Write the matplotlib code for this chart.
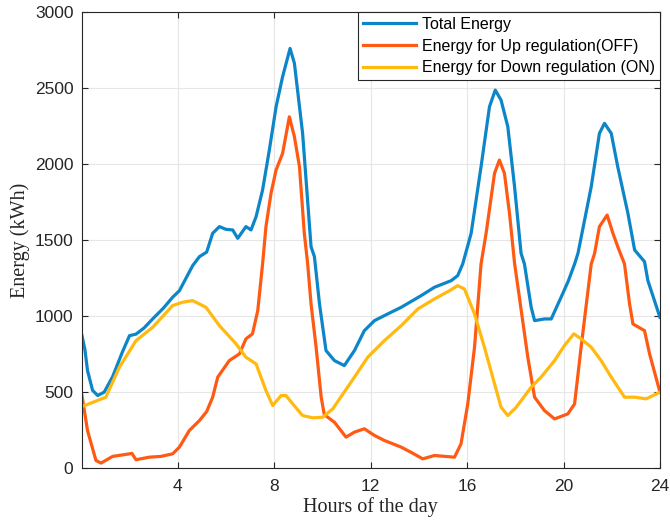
import matplotlib.pyplot as plt

# Hours and values
t_total = [0.03, 0.15, 0.26, 0.47, 0.68, 0.95, 1.3, 1.7, 2.0, 2.27, 2.6, 2.96, 3.4, 3.79, 4.07, 4.35, 4.62,
           4.9, 5.2, 5.45, 5.73, 6.0, 6.28, 6.49, 6.83, 7.04, 7.25, 7.52, 7.8, 8.08, 8.35, 8.66,
           8.84, 9.18, 9.53, 9.67, 9.88, 10.15, 10.5, 10.91, 11.33, 11.74, 12.16, 12.57, 13.27,
           14.1, 14.65, 15.34, 15.61, 15.82, 16.17, 16.58, 16.93, 17.17, 17.41, 17.69, 17.97,
           18.24, 18.38, 18.66, 18.8, 19.21, 19.49, 19.9, 20.2, 20.46, 20.6, 21.15, 21.49, 21.7,
           21.98, 22.25, 22.67, 22.95, 23.36, 23.5, 24.0]
total = [870, 780, 640, 510, 476, 498, 600, 760, 870, 880, 920, 980, 1050, 1123, 1166, 1250, 1331,
         1390, 1420, 1544, 1588, 1570, 1566, 1511, 1588, 1566, 1653, 1829, 2092, 2377, 2575, 2761,
         2663, 2202, 1456, 1390, 1079, 772, 706, 673, 772, 903, 969, 1002, 1057,
         1134, 1189, 1232, 1265, 1342, 1544, 1982, 2377, 2487, 2421, 2246, 1851,
         1412, 1342, 1057, 969, 980, 980, 1123, 1230, 1342, 1412, 1851, 2202, 2268,
         2202, 1982, 1676, 1434, 1357, 1232, 991]

t_up = [0.03, 0.26, 0.61, 0.82, 1.3, 2.0, 2.1, 2.27, 2.82, 3.3, 3.79, 4.07, 4.48, 4.9, 5.2, 5.45,
        5.66, 6.14, 6.56, 6.83, 7.1, 7.32, 7.52, 7.66, 7.87, 8.08, 8.35, 8.63, 8.84, 9.05, 9.25,
        9.39, 9.53, 9.74, 9.95, 10.08, 10.5, 10.98, 11.33, 11.74, 12.16, 12.57, 13.27, 13.7,
        14.16, 14.65, 15.48, 15.75, 16.03, 16.31, 16.58, 16.79, 17.14, 17.34, 17.55, 17.76,
        17.97, 18.17, 18.52, 18.8, 19.21, 19.63, 20.18, 20.46, 20.73, 21.15, 21.29, 21.49,
        21.81, 22.05, 22.25, 22.53, 22.74, 22.88, 23.36, 23.57, 24.0]
up = [476, 245, 48, 31, 75, 92, 95, 53, 70, 75, 92, 136, 245, 311, 370, 465,
      597, 706, 750, 849, 882, 1035, 1342, 1588, 1807, 1961, 2070, 2311, 2180, 1982, 1544,
      1342, 1079, 794, 465, 350, 300, 202, 235, 257, 213, 180, 136, 100,
      59, 81, 70, 158, 421, 794, 1342, 1544, 1939, 2026, 1939, 1676,
      1347, 1123, 728, 465, 377, 322, 355, 421, 794, 1342, 1412, 1588,
      1664, 1544, 1456, 1342, 1079, 947, 903, 750, 498]

t_down = [0.03, 1.02, 1.58, 2.27, 2.96, 3.79, 4.2, 4.62, 5.17, 5.73, 6.42, 6.83, 7.25, 7.66,
          7.94, 8.29, 8.49, 8.77, 9.18, 9.6, 10.01, 10.43, 11.33, 11.88, 12.57, 13.27, 13.96,
          14.65, 15.27, 15.61, 15.89, 16.31, 16.72, 17.14, 17.41, 17.69, 18.04, 18.66, 19.07,
          19.63, 20.04, 20.43, 20.73, 21.15, 21.56, 21.98, 22.53, 22.95, 23.43, 24.0]
down = [403, 465, 662, 837, 925, 1068, 1090, 1101, 1057, 936, 816, 728, 684, 509,
        410, 476, 476, 421, 344, 329, 333, 388, 597, 728, 837, 936, 1046,
        1112, 1166, 1199, 1178, 1013, 794, 553, 399, 344, 399, 531, 597,
        706, 805, 882, 849, 794, 706, 597, 465, 465, 454, 498]

x_ticks = [4, 8, 12, 16, 20, 24]
y_ticks = [0, 500, 1000, 1500, 2000, 2500, 3000]

plt.rcParams['font.family'] = ['Liberation Sans', 'DejaVu Sans']
plt.rcParams['xtick.direction'] = 'in'
plt.rcParams['ytick.direction'] = 'in'

fig = plt.figure(figsize=(6.7, 5.28), dpi=100)
ax = fig.add_axes([0.122, 0.114, 0.863, 0.863])

ax.plot(t_total, total, color='#0C86C8', lw=2.3, label='Total Energy')
ax.plot(t_up, up, color='#FF5A14', lw=2.3, label='Energy for Up regulation(OFF)')
ax.plot(t_down, down, color='#FFB90F', lw=2.3, label='Energy for Down regulation (ON)')

ax.set_xlim(0.02, 24)
ax.set_ylim(0, 3000)
ax.set_xticks(x_ticks)
ax.set_yticks(y_ticks)
ax.tick_params(labelsize=12.5, colors='#262626', top=True, right=True, length=4, width=0.8)
ax.tick_params(axis='x', pad=8)
ax.tick_params(axis='y', pad=6)
ax.grid(True, color='#e6e6e6', lw=0.8)
for s in ax.spines.values():
    s.set_color('#262626')
    s.set_linewidth(0.8)

ax.set_xlabel('Hours of the day', family='Liberation Serif', fontsize=14.5, color='#262626',
              labelpad=2)
ax.set_ylabel('Energy (kWh)', family='Liberation Serif', fontsize=14.5, color='#262626',
              labelpad=3)

leg = ax.legend(loc='upper right', fontsize=11.5, fancybox=False, framealpha=1,
                borderaxespad=0, handlelength=3.3, borderpad=0.3, labelspacing=0.42,
                handletextpad=0.4)
leg.get_frame().set_edgecolor('#262626')
leg.get_frame().set_linewidth(0.8)

fig.savefig('out.png', dpi=100)
